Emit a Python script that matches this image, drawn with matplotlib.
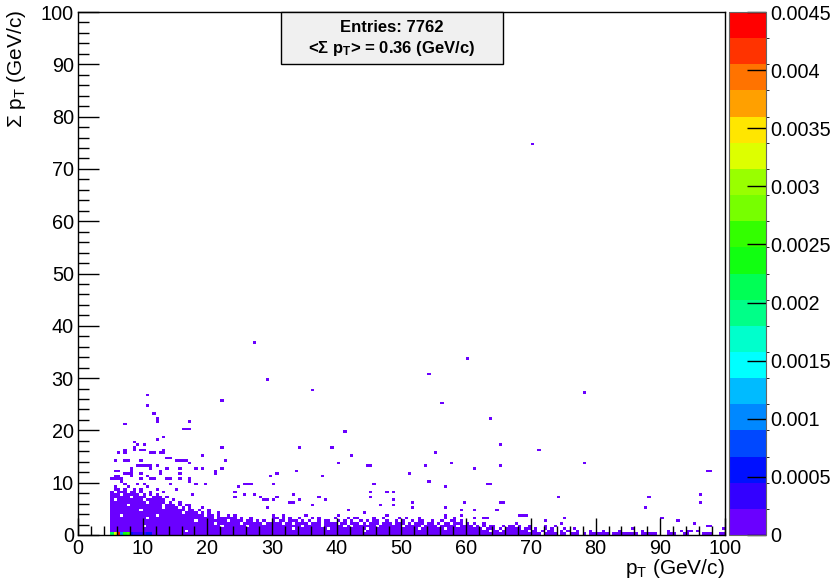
import numpy as np
import matplotlib
matplotlib.use("Agg")
import matplotlib.pyplot as plt
from matplotlib.colors import ListedColormap, BoundaryNorm
from matplotlib.patches import Rectangle

plt.rcParams["font.family"] = ["Liberation Sans", "DejaVu Sans"]
plt.rcParams["mathtext.fontset"] = "custom"
plt.rcParams["mathtext.rm"] = "Liberation Sans"
plt.rcParams["mathtext.it"] = "Liberation Sans:italic"
plt.rcParams["mathtext.bf"] = "Liberation Sans:bold"

N_ENTRIES = 7762
MEAN_SUM_PT = 0.36
BIN = 0.5          # GeV/c per bin on both axes
BASE = 0.0001      # content of a singly filled bin

# dense band next to the axis: one string per sum-pT row, top row first, '#' = filled bin
dense_5_30 = [
    ".##.#..#.#",
    "#.###.##.#..#",
    "###.#####.#.#.#",
    "######.####..###.#",
    "#.########.######..#",
    "###########.#####.#..#",
    "#####.##########.###.#..#",
    "################.####.#.#...#",
    "#########.#############.##.#..#",
    "######################.####.#.#..#",
    "###.##########.##############.##.#..#.#",
    "###########.####################.######.#..#",
    "##########################.#########.####.##.#.#",
    "################################.#######.######.##",
    "##########.#######################.#######.#######",
    "##################################################",
    "#######################.##########################",
    "##################################################",
]
dense_30_60 = [
    "#..#......#.........#..............#.................#......",
    "##.#.#..#...#.#....#...#.##....#..#....#.#...#.......#..#...",
    "#.##.###.#.#..#.##..#.#.#..#.#.##..#..#.#..#.##..#..#..##.#.",
    "###.##.####.###.####.##.###.#.###.###.###.#.###.##.#.##.###.",
    "#########.#####.######.#.#######.#######.#####.####.#####.##",
    "######.##########.###########.###############.#######.######",
    "############################.###############################",
    "############################################################",
]
dense_60_100 = [
    "#.#..#.........#....",
    "##.#.#.##..#.##.#..#....#..#",
    "#####.###.#.#####.##.#..#.#...#..#.................#",
    "#######.##.########.##.#.##..#.#..#...#...#....#......#.......#...#.##.#",
    "####################" "###.####.##.###.#.##" "####.########.#####." "..###..##....###..##",
]

# isolated bins above the band (bin centres)
iso_pt = [70.25, 27.25, 60.25, 29.25, 54.25, 36.25, 78.25, 56.25, 22.25, 63.75,
          41.25, 65.25, 71.25, 57.75, 61.25, 65.25, 78.25, 97.25, 97.75, 63.25,
          63.75, 59.75, 65.25, 65.75, 74.25, 88.25, 96.25, 96.25, 87.75, 59.25,
          61.25, 64.75, 59.25, 61.25, 61.25, 62.75, 63.25, 68.25, 68.75, 69.25,
          72.25, 75.25, 74.75, 90.25, 92.75, 95.25, 97.25, 97.75, 99.75,
          34.25, 39.25, 42.25, 40.25, 44.75, 45.25, 55.25, 53.75, 33.75, 29.75,
          30.75, 37.75, 51.25, 30.25, 45.75, 54.25, 45.25, 47.75, 48.75, 56.75,
          33.25, 30.75, 29.25, 30.25, 34.25, 37.25, 38.25, 45.25, 48.75, 32.75,
          33.25, 51.75, 51.75, 56.75, 36.25, 46.75, 48.75, 41.75, 44.25, 29.25,
          10.75, 10.75, 11.75, 12.25, 7.25, 17.25, 16.25, 16.75, 17.25, 22.25,
          12.25, 13.25, 8.75, 9.25, 10.25, 8.75, 9.75, 10.25, 7.25, 6.25,
          11.75, 13.25, 9.75, 13.75, 15.25, 16.25, 17.25, 19.25, 22.75, 5.75,
          7.25, 7.75, 9.25, 9.75, 10.25, 10.75, 11.25, 12.25, 13.75, 15.75,
          18.25, 19.25, 21.25, 21.25, 22.25, 5.75, 6.25, 7.25, 7.75, 8.25,
          5.75, 6.25, 8.25, 8.25, 9.75, 9.75, 11.25, 11.75, 12.75, 14.25,
          15.75, 17.25, 18.25, 19.75, 25.75, 26.25, 26.75, 24.75, 24.25, 24.25,
          25.75, 27.25, 28.25, 28.75, 5.25, 5.75, 6.25, 7.25, 9.25, 10.25,
          12.25, 8.75, 7.25, 11.25, 12.75, 13.25, 14.25, 15.75, 16.75, 8.25,
          10.75, 11.25, 12.75, 13.75, 14.25, 15.75, 17.25, 6.75, 6.75, 5.75,
          7.75, 10.75, 12.25, 13.25, 15.25, 17.75, 14.75, 15.75, 16.75, 17.25,
          11.25]
iso_sum = [74.75, 36.75, 33.75, 29.75, 30.75, 27.75, 27.25, 25.25, 25.75, 22.25,
           19.75, 17.25, 16.25, 13.75, 12.75, 13.25, 13.75, 12.25, 12.25, 9.75,
           9.75, 6.25, 6.25, 6.25, 7.25, 7.25, 7.75, 6.25, 5.25, 4.75,
           4.75, 4.75, 3.75, 3.25, 2.25, 3.25, 3.25, 3.75, 3.75, 3.75,
           2.75, 3.25, 2.25, 3.25, 2.75, 2.25, 1.75, 1.75, 1.25,
           16.75, 16.75, 15.25, 13.75, 13.25, 13.25, 15.75, 13.25, 12.25, 11.25,
           11.75, 11.25, 11.75, 9.75, 9.75, 10.25, 8.25, 8.25, 8.25, 9.25,
           7.75, 7.25, 6.75, 6.75, 6.75, 7.25, 6.75, 7.25, 6.75, 6.25,
           6.25, 6.25, 5.25, 5.25, 5.75, 5.75, 5.75, 4.75, 4.25, 5.25,
           26.75, 24.75, 23.25, 22.25, 21.25, 21.75, 20.25, 20.25, 20.25, 16.75,
           18.25, 18.75, 17.75, 17.25, 17.25, 16.25, 16.25, 16.25, 15.75, 15.75,
           15.75, 15.75, 14.25, 14.75, 14.25, 14.25, 13.75, 15.25, 14.25, 14.25,
           14.25, 14.25, 13.25, 13.25, 13.25, 13.25, 12.75, 13.25, 12.75, 12.75,
           12.75, 12.75, 11.75, 12.25, 12.75, 12.25, 12.25, 11.75, 11.75, 11.75,
           11.25, 11.25, 11.25, 12.25, 10.75, 11.75, 10.75, 10.75, 11.75, 10.75,
           10.75, 10.25, 9.75, 9.75, 9.75, 9.75, 9.75, 9.25, 8.25, 7.25,
           7.75, 7.75, 7.25, 6.75, 10.75, 10.75, 10.75, 9.75, 9.75, 9.75,
           21.75, 16.75, 16.25, 15.75, 15.75, 16.25, 14.75, 14.25, 14.25, 12.75,
           11.25, 13.25, 12.25, 10.75, 9.75, 11.75, 10.75, 10.25, 10.75, 9.25,
           9.25, 9.25, 8.75, 8.25, 8.75, 7.75, 6.75, 6.25, 5.75, 5.75,
           6.25]

# first sum-pT row at low pT, where the bins carry more weight
low_pt = [5.25, 5.75, 6.25, 6.75, 7.25, 7.75, 8.25, 8.75, 9.25, 9.75, 10.25, 10.75, 11.25]
low_val = [0.0021, 0.0032, 0.0044, 0.0009, 0.0024, 0.0026, 0.0006, 0.0003, 0.0003,
           0.0003, 0.0003, 0.0006, 0.0005]
LOW_SUM = 0.25

palette = ["#6a00ff", "#3300ff", "#0010ff", "#0048ff", "#0088ff", "#00bbff", "#00ffff",
           "#00ffcc", "#00ff88", "#00ff55", "#11ff11", "#33ff00", "#77ff00", "#99ff00",
           "#ddff00", "#ffe600", "#ffa000", "#ff7300", "#ff3300", "#ff0000"]
levels = np.linspace(0, 0.0045, 21)


def grid_cells(rows, pt_start):
    pts, sums = [], []
    for k, row in enumerate(rows):
        j = len(rows) - 1 - k
        for c, ch in enumerate(row):
            if ch == "#":
                pts.append(pt_start + BIN * c + BIN / 2)
                sums.append(BIN * j + BIN / 2)
    return pts, sums


pt_all, sum_all = list(iso_pt), list(iso_sum)
for rows, start in [(dense_5_30, 5.0), (dense_30_60, 30.0), (dense_60_100, 60.0)]:
    p, s = grid_cells(rows, start)
    pt_all += p
    sum_all += s

edges = np.arange(0, 100 + BIN, BIN)
occ, xe, ye = np.histogram2d(pt_all, sum_all, bins=[edges, edges])
z = np.where(occ > 0, BASE, 0.0)
low_h, _, _ = np.histogram2d(low_pt, [LOW_SUM] * len(low_pt), bins=[edges, edges], weights=low_val)
z = np.where(low_h > 0, low_h, z)
z = np.ma.masked_equal(z, 0)

cmap = ListedColormap(palette)
norm = BoundaryNorm(levels, cmap.N)

fig = plt.figure(figsize=(8.34, 5.83), dpi=100)
ax = fig.add_axes([78 / 834, 48 / 583, 647 / 834, 523 / 583])
mesh = ax.pcolormesh(xe, ye, z.T, cmap=cmap, norm=norm)

ax.set_xlim(0, 100)
ax.set_ylim(0, 100)
ax.set_xticks(np.arange(0, 101, 10))
ax.set_yticks(np.arange(0, 101, 10))
ax.set_xticks(np.arange(0, 101, 2), minor=True)
ax.set_yticks(np.arange(0, 101, 2), minor=True)
ax.tick_params(axis="x", which="major", direction="in", length=12, width=1, labelsize=14.3, pad=3)
ax.tick_params(axis="x", which="minor", direction="in", length=6.5, width=1)
ax.tick_params(axis="y", which="major", direction="in", length=15, width=1, labelsize=14.3, pad=3)
ax.tick_params(axis="y", which="minor", direction="in", length=8, width=1)
for sp in ax.spines.values():
    sp.set_linewidth(1)

fig.text(725 / 834, 1 - 569 / 583, r"p$_{\mathrm{T}}$ (GeV/c)", ha="right", va="center", fontsize=15)
fig.text(17 / 834, 1 - 10 / 583, r"Σ p$_{\mathrm{T}}$ (GeV/c)", ha="center", va="top",
         rotation=90, fontsize=15)

# colour scale
cax = fig.add_axes([729 / 834, 48 / 583, 37 / 834, 523 / 583])
cb = fig.colorbar(mesh, cax=cax, ticks=np.arange(0, 0.00451, 0.0005))
cb.set_ticklabels(["0", "0.0005", "0.001", "0.0015", "0.002", "0.0025",
                   "0.003", "0.0035", "0.004", "0.0045"])
cax.tick_params(direction="in", length=14, width=1, labelsize=14.3, pad=3)
cb.outline.set_edgecolor("#666666")
cb.outline.set_linewidth(0.8)

# statistics box
fig.add_artist(Rectangle((281 / 834, 1 - 64 / 583), 222 / 834, 52 / 583,
                         transform=fig.transFigure, facecolor="#f0f0f0",
                         edgecolor="black", linewidth=1))
fig.text(392 / 834, 1 - 27 / 583, f"Entries: {N_ENTRIES}", ha="center", va="center",
         fontsize=12, fontweight="bold")
fig.text(392 / 834, 1 - 49 / 583, "<Σ p$_{\\mathbf{T}}$> = " + f"{MEAN_SUM_PT:.2f} (GeV/c)",
         ha="center", va="center", fontsize=12, fontweight="bold")

fig.savefig("out.png", dpi=100)
